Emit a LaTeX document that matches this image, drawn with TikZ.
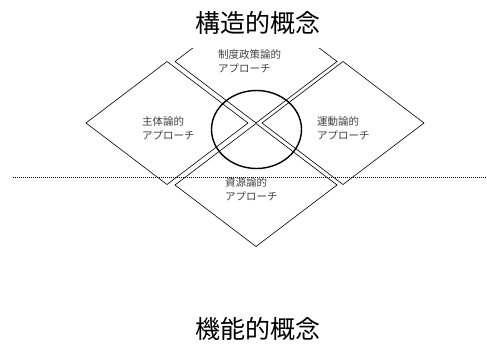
\documentclass[tikz,border=0pt]{standalone}
\usepackage{fontspec}
\newfontfamily\cjk{Noto Sans CJK JP}
\usetikzlibrary{shapes.geometric}
\tikzset{
  rhomb/.style={shape=diamond, draw, line width=0.6pt, inner sep=0pt, outer sep=0pt,
    minimum width=162pt, minimum height=123pt},
  lbl/.style={anchor=west, align=left, inner sep=0pt, text=black!75,
    font=\cjk\fontsize{10.5pt}{14pt}\selectfont},
  ttl/.style={inner sep=0pt, font=\cjk\fontsize{25pt}{28pt}\selectfont},
  oval/.style={draw, line width=1.4pt, ellipse, inner sep=0pt,
    minimum width=90pt, minimum height=78pt},
  divider/.style={line width=0.6pt, dash pattern=on 1.2pt off 0.8pt}
}
\begin{document}
\begin{tikzpicture}[x=1pt,y=-1pt]
\useasboundingbox (0,0) rectangle (487,343);
% diamonds
\node[rhomb] (top) at (256,61.5) {};
\node[rhomb] (left) at (167,123) {};
\node[rhomb] (right) at (343,123) {};
\node[rhomb] (bottom) at (256,185) {};
% title cover
\node[ttl, fill=white, minimum width=200pt, minimum height=50pt] (struct) at (258,23) {構造的概念};
% ellipse
\node[oval] (core) at (256.5,129.5) {};
% divider
\coordinate (dl) at (13,177);
\coordinate (dr) at (487,177);
\draw[divider] (dl) -- (dr);
% labels
\node[lbl] (tl) at (218,61) {制度政策論的\\アプローチ};
\node[lbl] (ll) at (142,128) {主体論的\\アプローチ};
\node[lbl] (rl) at (317,128) {運動論的\\アプローチ};
\node[lbl] (bl) at (225,189) {資源論的\\アプローチ};
\node[ttl] (func) at (258,329) {機能的概念};
\end{tikzpicture}
\end{document}
